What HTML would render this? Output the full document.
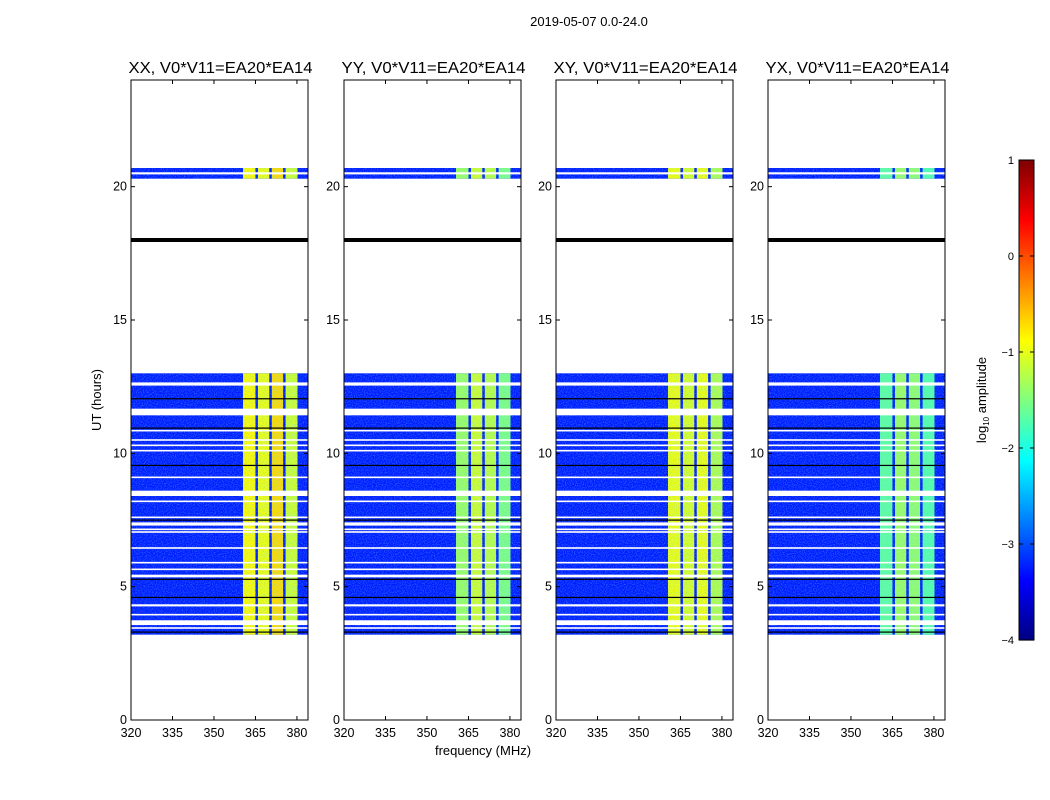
<!DOCTYPE html>
<html><head><meta charset="utf-8"><style>
body{margin:0;background:#fff;}
svg{display:block;font-family:"Liberation Sans","DejaVu Sans",sans-serif;}
</style></head><body>
<svg id="fig" width="1050" height="800" viewBox="0 0 1050 800" xmlns="http://www.w3.org/2000/svg">
<defs>
<filter id="noise" x="0" y="0" width="100%" height="100%">
<feTurbulence type="fractalNoise" baseFrequency="0.9" numOctaves="1" seed="3"/>
<feColorMatrix type="matrix" values="0 0 0 0 0.1  0 0 0 0 0.6  0 0 0 0 1  0 0 0 2.2 -0.9"/>
</filter>
</defs>
<text x="589" y="26" font-size="13" text-anchor="middle">2019-05-07 0.0-24.0</text>
<text transform="translate(101,400) rotate(-90)" font-size="13" text-anchor="middle">UT (hours)</text>
<text x="483" y="755" font-size="13" text-anchor="middle">frequency (MHz)</text>
<g id="panels"></g>
<g id="cbar"></g>
</svg>
<script>
const panelTitles=["XX, V0*V11=EA20*EA14","YY, V0*V11=EA20*EA14","XY, V0*V11=EA20*EA14","YX, V0*V11=EA20*EA14"];
const panelLefts=[131,344,556,768];
const xTicks=[320,335,350,365,380];
const yTicks=[0,5,10,15,20];
// data segments in hours [start,end]
const segStarts=[3.2,20.3];
const segEnds=[13.0,20.7];
// white gaps (hours, center) and widths (hours)
const gapCenters=[12.6,11.55,10.85,10.5,10.3,10.1,9.1,8.5,8.2,7.6,7.35,7.15,7.05,6.45,5.9,5.65,5.4,4.3,3.95,3.65,3.45,20.5];
const gapWidths=[0.12,0.25,0.06,0.06,0.06,0.06,0.06,0.2,0.06,0.06,0.12,0.06,0.06,0.06,0.06,0.06,0.1,0.08,0.06,0.18,0.06,0.08];
// black lines (hours)
const blackLines=[12.05,10.95,9.55,7.5,5.28,4.6,3.3];
const flagLine=18.0;
// log10 amplitude: background, then 4 sub-bands per polarisation
const bgLevel=[-3.25,-3.25,-3.25,-3.25];
const bandEdges=[360.5,365,370,375,380.2];
const bandXX=[-0.85,-0.95,-0.7,-1.1];
const bandYY=[-1.35,-1.1,-1.2,-1.5];
const bandXY=[-0.95,-1.05,-0.95,-1.25];
const bandYX=[-1.65,-1.35,-1.4,-1.7];
const cbarTicks=[-4,-3,-2,-1,0,1];

const bands=[bandXX,bandYY,bandXY,bandYX];
const NS="http://www.w3.org/2000/svg";
const W=177,TOP=80,BOT=720,XMIN=320,XMAX=384,YMAX=24;
function jet(v){let t=Math.max(0,Math.min(1,(v+4)/5));const c=x=>Math.round(255*Math.max(0,Math.min(1,1.5-Math.abs(x))));return`rgb(${c(4*t-3)},${c(4*t-2)},${c(4*t-1)})`;}
function yS(h){return BOT-(h/YMAX)*(BOT-TOP);}
function mk(tag,attrs,parent){const e=document.createElementNS(NS,tag);for(const k in attrs)e.setAttribute(k,attrs[k]);parent.appendChild(e);return e;}
const root=document.getElementById('panels');
panelLefts.forEach((L,p)=>{
  const xS=f=>L+(f-XMIN)/(XMAX-XMIN)*W;
  const g=mk('g',{},root);
  
  
  for(let s=0;s<segStarts.length;s++){
    const y0=yS(segEnds[s]),y1=yS(segStarts[s]);
    const r=mk('rect',{x:L,y:y0,width:W,height:y1-y0,fill:jet(bgLevel[p])},g);
    
    
    for(let b=0;b<4;b++){
      const x0=xS(bandEdges[b])+(b?2.5:0),x1=xS(bandEdges[b+1]);
      const br=mk('rect',{x:x0,y:y0,width:x1-x0,height:y1-y0,fill:jet(bands[p][b])},g);
      
      
    }
    const n=mk('rect',{x:L,y:y0,width:W,height:y1-y0,filter:'url(#noise)',opacity:0.5},g);
    
    
  }
  gapCenters.forEach((c,i)=>{
    const y0=yS(c+gapWidths[i]/2),y1=yS(c-gapWidths[i]/2);
    const r=mk('rect',{x:L,y:y0,width:W,height:Math.max(1.5,y1-y0),fill:'#fff'},g);
    
    
  });
  blackLines.forEach(h=>{
    const r=mk('rect',{x:L,y:yS(h)-0.5,width:W,height:1.2,fill:'#000'},g);
    
    
  });
  const fl=mk('rect',{x:L,y:yS(flagLine)-2,width:W,height:4,fill:'#000'},g);
  
  
  const fr=mk('rect',{x:L,y:TOP,width:W,height:BOT-TOP,fill:'none',stroke:'#000','stroke-width':1},g);
  
  
  const t=mk('text',{x:L+W/2+1,y:73,'font-size':16,'text-anchor':'middle',textLength:184,lengthAdjust:'spacingAndGlyphs'},g);
  t.textContent=panelTitles[p];
  
  
  xTicks.forEach(v=>{
    const x=xS(v);
    mk('line',{x1:x,x2:x,y1:BOT,y2:BOT-4,stroke:'#000'},g);
    mk('line',{x1:x,x2:x,y1:TOP,y2:TOP+4,stroke:'#000'},g);
    const tx=mk('text',{x:x,y:BOT+17,'font-size':12.5,'text-anchor':'middle'},g);
    tx.textContent=v;
    
    
  });
  yTicks.forEach(v=>{
    const y=yS(v);
    mk('line',{x1:L,x2:L+4,y1:y,y2:y,stroke:'#000'},g);
    mk('line',{x1:L+W,x2:L+W-4,y1:y,y2:y,stroke:'#000'},g);
    const ty=mk('text',{x:L-4,y:y+4,'font-size':12.5,'text-anchor':'end'},g);
    ty.textContent=v;
    
    
  });
});
// colorbar
const cb=document.getElementById('cbar');


const CX=1019,CW=15,CT=160,CB=640;
const cy=v=>CB-(v+4)/5*(CB-CT);
for(let i=0;i<240;i++){
  const v0=-4+i*5/240;
  mk('rect',{x:CX,y:cy(v0+5/240),width:CW,height:(CB-CT)/240+0.6,fill:jet(v0+2.5/240)},cb);
}
mk('rect',{x:CX,y:CT,width:CW,height:CB-CT,fill:'none',stroke:'#000'},cb);
cbarTicks.forEach(v=>{
  const y=cy(v);
  mk('line',{x1:CX,x2:CX+4,y1:y,y2:y,stroke:'#000'},cb);
  mk('line',{x1:CX+CW,x2:CX+CW-4,y1:y,y2:y,stroke:'#000'},cb);
  const t=mk('text',{x:CX-5,y:y+4,'font-size':11,'text-anchor':'end'},cb);
  t.textContent=(v<0?'\u2212':'')+Math.abs(v);
  
  
});
const lab=mk('text',{transform:'translate(986,400) rotate(-90)','font-size':13,'text-anchor':'middle'},cb);
lab.innerHTML='log<tspan font-size="8" dy="3">10</tspan><tspan dy="-3"> amplitude</tspan>';


</script>
</body></html>
